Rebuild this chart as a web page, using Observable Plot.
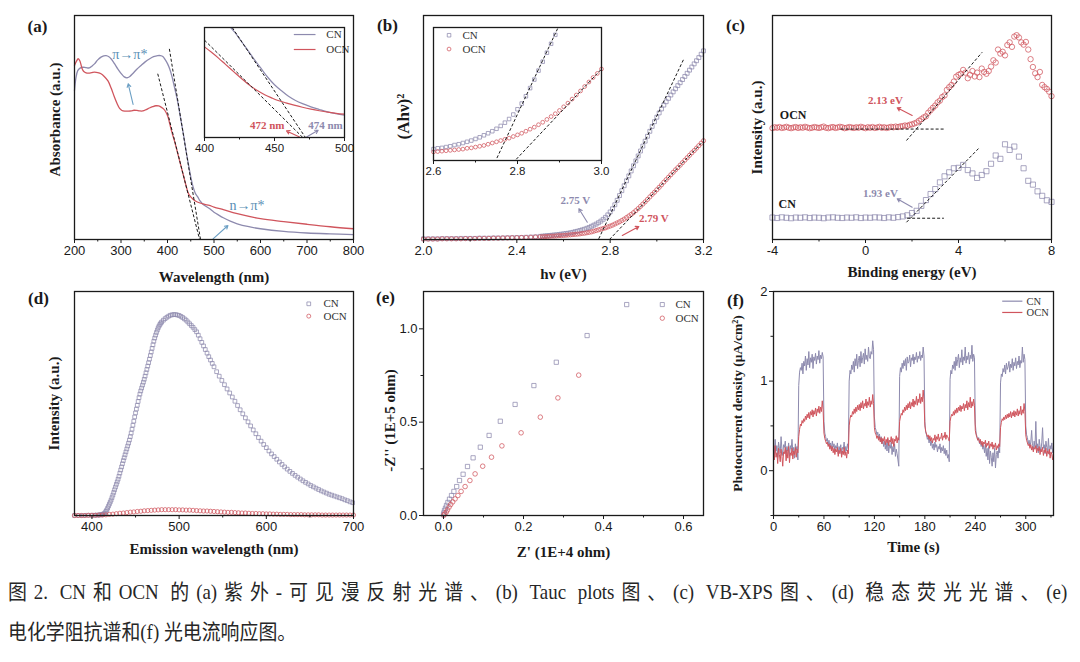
<!DOCTYPE html>
<html><head><meta charset="utf-8">
<script src="https://cdn.jsdelivr.net/npm/d3@7"></script>
<script src="https://cdn.jsdelivr.net/npm/@observablehq/plot@0.6"></script>
<style>
body{margin:0;background:#fff;}
#root{position:relative;width:1080px;height:662px;overflow:hidden;background:#fff;}
#root svg{position:absolute;}
.cap{position:absolute;left:8px;font-family:"Liberation Serif","Noto Sans CJK SC",serif;font-size:21px;line-height:40px;color:#262626;transform:scaleX(0.9);transform-origin:0 50%;white-space:nowrap;}
</style></head><body><div id="root">
<div class="cap" style="top:572px;width:1177px;white-space:normal;text-align:justify;text-align-last:justify">图2. CN和OCN 的(a)紫外-可见漫反射光谱、(b) Tauc plots图、(c) VB-XPS图、(d) 稳态荧光光谱、(e)</div>
<div class="cap" style="top:612px">电化学阻抗谱和(f) 光电流响应图。</div>
</div>
<script>
// ---------------- DATA ----------------
// (a) UV-vis absorbance (relative units)
const aWlCN = [200,203,207,212,218,225,232,238,243,250,257,263,268,274,279,286,293,300,307,313,319,325,334,343,352,361,370,379,385,390,395,400,405,410,415,420,425,430,435,440,445,450,455,460,465,470,475,480,485,490,500,510,520,535,550,575,600,650,700,750,800];
const aAbsCN = [0.665,0.72,0.754,0.765,0.769,0.767,0.766,0.775,0.784,0.802,0.814,0.82,0.821,0.816,0.806,0.785,0.762,0.742,0.726,0.722,0.728,0.74,0.76,0.777,0.793,0.806,0.816,0.821,0.821,0.817,0.803,0.785,0.76,0.725,0.68,0.635,0.58,0.52,0.46,0.395,0.335,0.28,0.235,0.205,0.19,0.172,0.16,0.152,0.145,0.138,0.122,0.109,0.097,0.082,0.07,0.057,0.048,0.036,0.029,0.025,0.022];
const aWlOCN = [200,204,208,212,216,220,225,230,237,243,250,257,264,272,279,286,292,297,302,308,315,322,328,334,340,347,354,361,368,375,381,387,392,397,401,405,410,415,420,425,430,435,440,445,450,455,460,470,480,490,500,520,550,600,650,700,750,800];
const aAbsOCN = [0.777,0.795,0.807,0.795,0.765,0.75,0.744,0.743,0.745,0.747,0.745,0.74,0.728,0.708,0.675,0.635,0.605,0.585,0.576,0.573,0.573,0.574,0.577,0.576,0.574,0.574,0.58,0.587,0.593,0.597,0.596,0.59,0.582,0.567,0.548,0.515,0.475,0.44,0.40,0.36,0.32,0.28,0.24,0.205,0.19,0.18,0.172,0.163,0.157,0.152,0.145,0.133,0.115,0.093,0.08,0.068,0.057,0.048];
const aTangents = [{x1:404,y1:0.851,x2:471,y2:0},{x1:379,y1:0.74,x2:469,y2:0}];
const aNotes = [{x:319,y:0.826,text:"π→π*"},{x:571,y:0.152,text:"n→π*"}];
const aArrows = [{x1:326,y1:0.603,x2:315.5,y2:0.695},{x1:498,y1:0.003,x2:530,y2:0.0625}];
// (a) inset
const aiWlCN = [419,422,426,430,435,440,445,450,455,460,465,470,476,482,488,494,500];
const aiAbsCN = [0.995,0.95,0.88,0.81,0.72,0.635,0.55,0.48,0.425,0.375,0.337,0.308,0.279,0.255,0.233,0.217,0.203];
const aiWlOCN = [400,405,410,415,421,427,433,438,443,448,452,458,464,470,476,482,488,494,500];
const aiAbsOCN = [0.824,0.775,0.722,0.665,0.597,0.53,0.467,0.425,0.389,0.36,0.339,0.315,0.294,0.275,0.258,0.243,0.23,0.22,0.212];
const aiTangents = [{x1:419.8,y1:1.0,x2:472.1,y2:0},{x1:400,y1:0.885,x2:470.2,y2:0}];
const aiNotes = [{s:"OCN",x:444.8,y:0.112,text:"472 nm"},{s:"CN",x:486.4,y:0.112,text:"474 nm"}];
const aiArrows = [{s:"OCN",x1:467.9,y1:0.005,x2:458.6,y2:0.06},{s:"CN",x1:472.9,y1:0.005,x2:481.2,y2:0.066}];
const aiLegend = [{s:"CN",x1:463.8,x2:479.3,y:0.936,tx:487},{s:"OCN",x1:463.8,x2:479.3,y:0.80,tx:487}];

// (b) Tauc plot
const bE = [2.00,2.02,2.04,2.06,2.08,2.10,2.12,2.14,2.16,2.18,2.20,2.22,2.24,2.26,2.28,2.30,2.32,2.34,2.36,2.38,2.40,2.42,2.44,2.46,2.48,2.50,
2.51,2.52,2.53,2.54,2.55,2.56,2.57,2.58,2.59,2.60,2.61,2.62,2.63,2.64,2.65,2.66,2.67,2.68,2.69,2.70,
2.71,2.72,2.73,2.74,2.75,2.76,2.77,2.78,2.79,2.80,2.81,2.82,2.83,2.84,2.85,2.86,2.87,2.88,2.89,2.90,
2.91,2.92,2.93,2.94,2.95,2.96,2.97,2.98,2.99,3.00,3.01,3.02,3.03,3.04,3.05,3.06,3.07,3.08,3.09,3.10,
3.11,3.12,3.13,3.14,3.15,3.16,3.17,3.18,3.19,3.20];
const bCN = [.003,.003,.003,.003,.004,.004,.004,.004,.005,.005,.005,.005,.006,.006,.006,.007,.007,.007,.008,.008,.009,.009,.010,.011,.012,.014,
.015,.016,.017,.018,.019,.020,.021,.022,.024,.025,.027,.028,.030,.032,.035,.037,.040,.043,.046,.050,
.054,.059,.064,.069,.075,.082,.090,.099,.110,.123,.137,.155,.175,.196,.218,.240,.262,.284,.306,.329,
.351,.373,.395,.417,.439,.461,.483,.505,.526,.546,.565,.583,.600,.615,.630,.645,.659,.673,.687,.700,
.714,.728,.742,.756,.770,.784,.798,.812,.827,.842];
const bOCN = [.002,.002,.002,.002,.003,.003,.003,.003,.003,.004,.004,.004,.005,.005,.005,.006,.006,.007,.007,.008,.008,.009,.009,.010,.011,.012,
.012,.013,.013,.014,.015,.015,.016,.017,.017,.018,.019,.020,.021,.022,.023,.024,.025,.027,.028,.030,
.032,.034,.037,.040,.043,.046,.049,.052,.056,.060,.064,.069,.074,.079,.085,.091,.098,.105,.112,.120,
.129,.138,.148,.158,.168,.179,.190,.201,.211,.222,.233,.244,.256,.267,.278,.289,.300,.311,.321,.332,
.343,.354,.365,.376,.387,.397,.408,.419,.430,.441];
const bTangents = [{x1:2.751,y1:0.003,x2:3.116,y2:0.807},{x1:2.797,y1:0,x2:3.194,y2:0.434}];
const bNotes = [{s:"CN",x:2.651,y:0.174,text:"2.75 V"},{s:"OCN",x:2.987,y:0.092,text:"2.79 V"}];
const bArrows = [{s:"CN",x1:2.702,y1:0.077,x2:2.666,y2:0.137},{s:"OCN",x1:2.852,y1:0.018,x2:2.923,y2:0.058}];
const biLegend = [{s:"CN",x:2.637,y:0.305,tx:2.669},{s:"OCN",x:2.637,y:0.271,tx:2.669}];

// (c) VB-XPS, sampled every 0.1 eV (OCN) and 0.2 eV (CN) from -4 eV
const cStart = -4, cStepOCN = 0.1, cStepCN = 0.2;
const cOCN = [.497,.501,.499,.502,.498,.500,.503,.499,.497,.500,
.502,.498,.501,.499,.503,.500,.497,.499,.502,.500,
.498,.501,.504,.499,.497,.500,.502,.498,.500,.503,
.501,.497,.499,.502,.500,.498,.501,.499,.503,.500,
.497,.501,.499,.502,.498,.500,.503,.499,.501,.498,
.500,.503,.501,.504,.502,.505,
.506,.509,.507,.512,.514,.518,.522,.530,.537,.545,
.550,.566,.577,.588,.598,.612,.620,.636,.643,.668,
.680,.690,.705,.727,.735,.740,.757,.745,.720,.735,
.752,.728,.745,.725,.763,.748,.740,.752,.772,.800,
.790,.848,.830,.838,.822,.868,.880,.860,.906,.912,
.902,.880,.870,.882,.848,.805,.770,.742,.725,.748,
.690,.680,.672,.660,.640];
const cCN = [.098,.096,.099,.097,.095,.098,.097,.099,.096,.098,
.097,.095,.098,.099,.097,.096,.098,.097,.099,.096,
.098,.097,.099,.098,.096,.099,.097,.100,
.103,.108,.118,.128,.150,.176,.203,.225,.255,.282,
.300,.318,.320,.333,.310,.295,.275,.288,.305,.338,
.375,.360,.425,.400,.415,.370,.318,.262,.245,.215,
.195,.175,.168];
const cTangents = [{x1:-1.07,y1:0.493,x2:3.38,y2:0.493},{x1:1.763,y1:0.442,x2:5.019,y2:0.836},{x1:1.79,y1:0.095,x2:3.37,y2:0.095},{x1:1.763,y1:0.077,x2:4.917,y2:0.412}];
const cLabels = [{x:-3.11,y:0.554,text:"OCN"},{x:-3.37,y:0.159,text:"CN"}];
const cNotes = [{s:"OCN",x:0.86,y:0.621,text:"2.13 eV"},{s:"CN",x:0.645,y:0.207,text:"1.93 eV"}];
const cArrows = [{s:"OCN",x1:2.008,y1:0.554,x2:1.363,y2:0.588},{s:"CN",x1:2.008,y1:0.144,x2:1.363,y2:0.182}];

// (d) steady-state PL
const dWlCN = [380,385,390,395,400,403,406,408,
410,411,412,413,414,415,416,417,418,419,420,421,422,423,424,425,426,427,428,429,
430,431,432,433,434,435,436,437,438,439,440,441,442,443,444,445,446,447,448,449,
450,451,452,453,454,455,456,457,458,459,460,461,462,463,464,465,466,467,468,469,
470,471,472,473,474,475,476,477,478,479,480,
482,484,486,488,490,492,494,496,498,500,502,504,506,508,510,512,514,516,518,520,
522,524,526,528,530,532,534,536,538,540,
543,546,549,552,555,558,561,564,567,570,573,576,579,582,585,588,591,594,597,600,
603,606,609,612,615,618,621,624,627,630,633,636,639,642,645,648,651,654,657,660,
663,666,669,672,675,678,681,684,687,690,693,696,699];
const dCN = [0,0,0,0.001,0.001,0.001,0.002,0.002,
.003,.004,.005,.006,.008,.012,.018,.025,.033,.042,.051,.060,.069,.080,.091,.103,.115,.127,.139,.150,
.162,.175,.189,.203,.217,.231,.245,.258,.271,.284,.297,.310,.323,.337,.352,.368,.385,.403,.421,.440,
.458,.475,.492,.509,.526,.542,.556,.569,.582,.595,.608,.622,.637,.652,.667,.682,.698,.714,.730,.746,
.762,.778,.792,.805,.817,.828,.838,.846,.853,.859,.864,
.872,.879,.885,.890,.894,.896,.897,.897,.895,.893,.889,.884,.878,.872,.864,.856,.848,.840,.830,.820,
.805,.789,.773,.757,.741,.725,.709,.694,.679,.664,
.642,.622,.603,.584,.565,.547,.529,.510,.491,.472,.454,.436,.418,.400,.382,.365,.348,.332,.317,.303,
.288,.275,.263,.251,.239,.228,.217,.207,.197,.188,.179,.171,.163,.155,.148,.141,.134,.128,.122,.116,
.110,.105,.100,.095,.091,.087,.083,.079,.075,.070,.066,.061,.057];
const dStartOCN = 380, dStepOCN = 4;
const dOCN = [.000,.000,.000,.000,.001,.001,.001,.002,.002,.003,
.005,.006,.008,.010,.011,.013,.015,.016,.018,.019,
.021,.022,.023,.024,.025,.026,.026,.026,.026,.026,
.025,.025,.024,.024,.023,.022,.021,.020,.020,.019,
.018,.017,.016,.015,.014,.014,.013,.012,.011,.011,
.010,.009,.009,.008,.008,.007,.007,.006,.006,.005,
.005,.005,.004,.004,.004,.004,.003,.003,.003,.003,
.003,.002,.002,.002,.002,.002,.002,.002,.002,.002,.002];
const dLegend = [{s:"CN",x:648.7,y:0.945,tx:665.6},{s:"OCN",x:648.7,y:0.89,tx:665.6}];

// (e) Nyquist plot
const eCNx = [0.000,0.001,0.0025,0.005,0.0075,0.011,0.015,0.020,0.026,0.033,0.040,0.049,0.060,0.074,0.092,0.114,0.142,0.179,0.226,0.282,0.359,0.458];
const eCNy = [0.004,0.014,0.027,0.039,0.054,0.070,0.0875,0.107,0.129,0.155,0.1875,0.221,0.2625,0.309,0.366,0.429,0.505,0.595,0.696,0.821,0.964,1.13];
const eOCNx = [0.001,0.003,0.007,0.010,0.014,0.018,0.023,0.029,0.036,0.044,0.054,0.066,0.079,0.098,0.120,0.146,0.194,0.242,0.286,0.338];
const eOCNy = [0.002,0.009,0.018,0.030,0.045,0.059,0.073,0.089,0.107,0.129,0.155,0.1875,0.223,0.264,0.3125,0.373,0.443,0.527,0.630,0.752];
const eLegend = [{s:"CN",x:0.547,y:1.13,tx:0.58},{s:"OCN",x:0.547,y:1.057,tx:0.58}];

// (f) transient photocurrent, 1 s sampling, light on 30-60, 90-120, ... s
const fStep = 1;
const fCN = [
0.30,0.18,0.35,0.22,0.28,0.15,0.32,0.25,0.20,0.38,0.24,0.17,0.29,0.26,0.33,0.19,0.27,0.22,0.31,0.16,0.28,0.24,0.35,0.21,0.26,0.14,0.30,0.23,0.27,0.12,
0.95,1.10,1.15,1.12,1.20,1.08,1.22,1.17,1.28,1.12,1.25,1.18,1.33,1.15,1.26,1.21,1.30,1.14,1.27,1.23,1.31,1.19,1.28,1.24,1.34,1.20,1.29,1.25,1.32,1.27,
0.55,0.42,0.38,0.33,0.36,0.29,0.34,0.27,0.31,0.24,0.33,0.26,0.30,0.22,0.28,0.25,0.31,0.19,0.27,0.23,0.29,0.18,0.26,0.24,0.32,0.20,0.27,0.22,0.30,0.25,
1.00,1.12,1.08,1.18,1.13,1.22,1.10,1.25,1.17,1.30,1.14,1.23,1.28,1.16,1.33,1.20,1.26,1.31,1.19,1.36,1.24,1.29,1.22,1.38,1.27,1.25,1.33,1.30,1.45,1.35,
0.60,0.48,0.45,0.40,0.43,0.36,0.41,0.33,0.38,0.30,0.35,0.27,0.33,0.24,0.31,0.22,0.35,0.20,0.29,0.25,0.32,0.18,0.27,0.21,0.30,0.16,0.24,0.19,0.12,0.05,
1.05,1.15,1.10,1.20,1.14,1.23,1.17,1.25,1.12,1.27,1.20,1.22,1.29,1.16,1.26,1.23,1.30,1.19,1.27,1.24,1.32,1.21,1.28,1.25,1.33,1.23,1.29,1.26,1.38,1.28,
0.55,0.43,0.40,0.35,0.38,0.31,0.36,0.28,0.33,0.25,0.30,0.23,0.32,0.26,0.29,0.21,0.27,0.24,0.30,0.20,0.26,0.22,0.28,0.19,0.25,0.17,0.23,0.14,0.18,0.10,
1.02,1.12,1.08,1.18,1.14,1.22,1.12,1.27,1.17,1.24,1.30,1.15,1.26,1.21,1.35,1.18,1.27,1.23,1.38,1.20,1.28,1.24,1.32,1.19,1.29,1.25,1.40,1.22,1.30,1.26,
0.52,0.42,0.38,0.34,0.37,0.30,0.34,0.27,0.31,0.24,0.28,0.20,0.30,0.16,0.25,0.12,0.27,0.08,0.22,0.15,0.05,0.20,0.10,0.25,0.03,0.18,0.22,0.14,0.26,0.20,
0.98,1.08,1.05,1.14,1.10,1.18,1.08,1.20,1.13,1.16,1.22,1.10,1.19,1.15,1.25,1.12,1.21,1.17,1.26,1.14,1.22,1.18,1.28,1.15,1.23,1.20,1.38,1.21,1.30,1.24,
0.50,0.40,0.37,0.30,0.34,0.27,0.32,0.45,0.28,0.23,0.33,0.26,0.55,0.24,0.30,0.20,0.35,0.27,0.22,0.31,0.48,0.25,0.29,0.19,0.33,0.26,0.22,0.36,0.18,0.28,0.24,0.31,0.20,0.26];
const fOCN = [
0.22,0.12,0.28,0.15,0.20,0.08,0.25,0.18,0.10,0.24,0.16,0.05,0.21,0.19,0.26,0.11,0.23,0.14,0.27,0.09,0.20,0.17,0.25,0.13,0.22,0.18,0.26,0.15,0.24,0.20,
0.38,0.46,0.52,0.50,0.56,0.53,0.58,0.55,0.61,0.57,0.63,0.59,0.65,0.58,0.66,0.62,0.68,0.60,0.67,0.63,0.70,0.61,0.69,0.65,0.72,0.64,0.71,0.66,0.78,0.68,
0.42,0.36,0.33,0.30,0.32,0.27,0.30,0.24,0.28,0.22,0.27,0.20,0.25,0.18,0.24,0.21,0.26,0.16,0.23,0.19,0.25,0.15,0.22,0.18,0.26,0.17,0.21,0.14,0.23,0.19,
0.50,0.58,0.62,0.60,0.66,0.63,0.69,0.64,0.71,0.66,0.73,0.68,0.74,0.67,0.76,0.70,0.78,0.69,0.75,0.72,0.80,0.70,0.77,0.73,0.82,0.71,0.78,0.74,0.85,0.75,
0.48,0.42,0.40,0.36,0.39,0.34,0.38,0.32,0.37,0.30,0.36,0.33,0.38,0.29,0.35,0.31,0.37,0.28,0.34,0.32,0.38,0.30,0.36,0.27,0.35,0.33,0.39,0.31,0.37,0.34,
0.55,0.60,0.64,0.62,0.68,0.65,0.71,0.67,0.73,0.68,0.75,0.70,0.77,0.69,0.76,0.72,0.80,0.71,0.78,0.74,0.83,0.73,0.80,0.76,0.86,0.75,0.82,0.77,0.90,0.79,
0.50,0.44,0.41,0.38,0.40,0.35,0.39,0.33,0.37,0.31,0.36,0.34,0.40,0.32,0.38,0.35,0.41,0.33,0.37,0.36,0.42,0.34,0.39,0.37,0.43,0.35,0.40,0.38,0.36,0.33,
0.55,0.60,0.63,0.61,0.66,0.62,0.68,0.64,0.70,0.65,0.71,0.67,0.73,0.66,0.72,0.69,0.75,0.67,0.74,0.70,0.78,0.68,0.76,0.71,0.82,0.70,0.77,0.72,0.80,0.73,
0.45,0.40,0.37,0.34,0.36,0.31,0.35,0.29,0.33,0.27,0.32,0.30,0.34,0.26,0.31,0.28,0.33,0.25,0.30,0.27,0.32,0.24,0.29,0.26,0.31,0.23,0.28,0.25,0.30,0.27,
0.48,0.54,0.58,0.56,0.60,0.57,0.62,0.58,0.63,0.59,0.64,0.60,0.66,0.59,0.65,0.61,0.67,0.60,0.66,0.62,0.69,0.61,0.67,0.63,0.72,0.62,0.68,0.64,0.75,0.66,
0.40,0.34,0.31,0.28,0.30,0.25,0.29,0.23,0.27,0.21,0.26,0.24,0.28,0.20,0.25,0.22,0.27,0.18,0.24,0.21,0.26,0.17,0.23,0.20,0.25,0.16,0.22,0.19,0.24,0.14,0.21,0.18,0.12,0.20];
const fLegend = [{s:"CN",x1:272,x2:296,y:1.892,tx:301},{s:"OCN",x1:272,x2:296,y:1.766,tx:301}];

// ---------------- STYLE / HELPERS ----------------
const CN_COL = "#8d8aae", OCN_COL = "#d0555d", ANN_COL = "#5a8fb5", INK = "#1a1a1a";
const SANS = "'Liberation Sans', Arial, sans-serif";
const SERIF = "'Liberation Serif', 'Times New Roman', serif";
const STYLE = {background: "transparent", overflow: "visible", fontFamily: SANS, fontSize: "13px", color: INK};
const col = s => s === "CN" ? CN_COL : OCN_COL;
const zip = (xs, ys) => xs.map((x, i) => ({x, y: ys[i]}));
const sampled = (start, step, ys) => ys.map((y, i) => ({x: +(start + i * step).toFixed(4), y}));
const root = document.getElementById("root");
function place(svg, left, top) { svg.style.left = left + "px"; svg.style.top = top + "px"; root.appendChild(svg); }

function xAxis(major, minor, fmt, fs = 13) {
  return [
    Plot.axisX(minor, {tickSize: 2.5, tickFormat: () => "", label: null, strokeWidth: 1}),
    Plot.axisX(major, {tickSize: 4, tickPadding: 2, tickFormat: fmt, label: null, fontSize: fs, strokeWidth: 1})
  ];
}
function yAxis(major, minor, fmt) {
  return [
    Plot.axisY(minor, {tickSize: 2.5, tickFormat: () => "", label: null, strokeWidth: 1}),
    Plot.axisY(major, {tickSize: 4, tickPadding: 2, tickFormat: fmt, label: null, fontSize: 13, strokeWidth: 1})
  ];
}
const frame = () => Plot.frame({stroke: INK, strokeWidth: 1.3});
const xTitle = (t, dy) => Plot.text([t], {text: d => d, frameAnchor: "bottom", dy, lineAnchor: "middle", fontFamily: SERIF, fontWeight: "bold", fontSize: 15, fill: INK});
const yTitle = (t, dx, dy = 0, fs = 15) => Plot.text([t], {text: d => d, frameAnchor: "left", dx, dy, rotate: -90, textAnchor: "middle", lineAnchor: "middle", fontFamily: SERIF, fontWeight: "bold", fontSize: fs, fill: INK});
const tag = (t, dx, dy) => Plot.text([t], {text: d => d, frameAnchor: "top-left", dx, dy, textAnchor: "middle", lineAnchor: "middle", fontFamily: SERIF, fontWeight: "bold", fontSize: 17, fill: INK});
const dashed = (data, extra = {}) => Plot.link(data, {x1: "x1", y1: "y1", x2: "x2", y2: "y2", stroke: INK, strokeWidth: 1, strokeDasharray: "3,2", ...extra});
const arrows = (data, stroke) => Plot.arrow(data, {x1: "x1", y1: "y1", x2: "x2", y2: "y2", stroke, strokeWidth: 1.1, headLength: 5});
const legendText = (data, fs = 11) => Plot.text(data, {x: "tx", y: "y", text: "s", textAnchor: "start", fontFamily: SERIF, fontSize: fs, fill: "#333"});
const squares = (data, r, extra = {}) => Plot.dot(data, {x: "x", y: "y", symbol: "square", r, fill: "none", stroke: CN_COL, strokeWidth: 0.75, ...extra});
const circles = (data, r, extra = {}) => Plot.dot(data, {x: "x", y: "y", symbol: "circle", r, fill: "none", stroke: OCN_COL, strokeWidth: 0.75, ...extra});
const byS = (arr, s) => arr.filter(d => d.s === s);

// ---------------- (a) ----------------
place(Plot.plot({
  width: 370, height: 285, marginLeft: 74, marginRight: 17, marginTop: 15, marginBottom: 46,
  style: STYLE, x: {domain: [200, 800], label: null}, y: {domain: [0, 1], axis: null},
  marks: [
    Plot.line(zip(aWlCN, aAbsCN), {x: "x", y: "y", stroke: CN_COL, strokeWidth: 1.3, curve: "catmull-rom"}),
    Plot.line(zip(aWlOCN, aAbsOCN), {x: "x", y: "y", stroke: OCN_COL, strokeWidth: 1.3, curve: "catmull-rom"}),
    dashed(aTangents),
    arrows(aArrows, "#6b9fc4"),
    Plot.text(aNotes, {x: "x", y: "y", text: "text", fill: ANN_COL, fontFamily: SERIF, fontSize: 14}),
    ...xAxis([200,300,400,500,600,700,800], [250,350,450,550,650,750], d => String(d)),
    frame(),
    xTitle("Wavelength (nm)", 38), yTitle("Absorbance (a.u.)", -19, -8), tag("(a)", -37, 11)
  ]
}), 0, 0);

// (a) inset
place(Plot.plot({
  width: 165, height: 140, marginLeft: 14, marginRight: 11, marginTop: 7, marginBottom: 23,
  style: {...STYLE, fontSize: "11px"}, x: {domain: [400, 500], label: null}, y: {domain: [0, 1], axis: null},
  marks: [
    Plot.line(zip(aiWlCN, aiAbsCN), {x: "x", y: "y", stroke: CN_COL, strokeWidth: 1.2, curve: "catmull-rom"}),
    Plot.line(zip(aiWlOCN, aiAbsOCN), {x: "x", y: "y", stroke: OCN_COL, strokeWidth: 1.2, curve: "catmull-rom"}),
    dashed(aiTangents, {clip: true}),
    arrows(byS(aiArrows, "OCN"), OCN_COL), arrows(byS(aiArrows, "CN"), CN_COL),
    Plot.text(byS(aiNotes, "OCN"), {x: "x", y: "y", text: "text", fill: OCN_COL, fontFamily: SERIF, fontWeight: "bold", fontSize: 11}),
    Plot.text(byS(aiNotes, "CN"), {x: "x", y: "y", text: "text", fill: CN_COL, fontFamily: SERIF, fontWeight: "bold", fontSize: 11}),
    Plot.link(aiLegend, {x1: "x1", x2: "x2", y1: "y", y2: "y", stroke: d => col(d.s), strokeWidth: 1.2}),
    legendText(aiLegend),
    ...xAxis([400,450,500], [425,475], d => String(d), 11.5),
    frame()
  ]
}), 190, 20);

// ---------------- (b) ----------------
const bCNd = zip(bE, bCN), bOCNd = zip(bE, bOCN);
place(Plot.plot({
  width: 360, height: 285, marginLeft: 63, marginRight: 17, marginTop: 15, marginBottom: 46,
  style: STYLE, x: {domain: [2.0, 3.2], label: null}, y: {domain: [0, 1], axis: null},
  marks: [
    squares(bCNd, 2.2),
    circles(bOCNd, 2.1),
    dashed(bTangents),
    arrows(byS(bArrows, "CN"), CN_COL), arrows(byS(bArrows, "OCN"), OCN_COL),
    Plot.text(byS(bNotes, "CN"), {x: "x", y: "y", text: "text", fill: CN_COL, fontFamily: SERIF, fontWeight: "bold", fontSize: 11}),
    Plot.text(byS(bNotes, "OCN"), {x: "x", y: "y", text: "text", fill: OCN_COL, fontFamily: SERIF, fontWeight: "bold", fontSize: 11}),
    ...xAxis([2.0,2.4,2.8,3.2], [2.2,2.6,3.0], d3.format(".1f")),
    frame(),
    xTitle("hν (eV)", 35), yTitle("(Ahν)²", -20, -11, 17), tag("(b)", -36, 10)
  ]
}), 360, 0);

// (b) inset
const biDom = [-0.003, 0.324];
const inB = d => d.x >= 2.6 && d.x <= 3.0 && d.y <= biDom[1];
place(Plot.plot({
  width: 190, height: 165, marginLeft: 13, marginRight: 9, marginTop: 7, marginBottom: 25,
  style: {...STYLE, fontSize: "11px"}, x: {domain: [2.6, 3.0], label: null}, y: {domain: biDom, axis: null},
  marks: [
    squares(bCNd.filter(inB), 2.0),
    circles(bOCNd.filter(inB), 1.9),
    dashed(bTangents, {clip: true}),
    squares(byS(biLegend, "CN"), 2.0),
    circles(byS(biLegend, "OCN"), 1.9),
    legendText(biLegend),
    ...xAxis([2.6,2.8,3.0], [2.7,2.9], d3.format(".1f"), 11.5),
    frame()
  ]
}), 420, 20);

// ---------------- (c) ----------------
place(Plot.plot({
  width: 365, height: 285, marginLeft: 57, marginRight: 29, marginTop: 15, marginBottom: 46,
  style: STYLE, x: {domain: [-4, 8], label: null}, y: {domain: [0, 1], axis: null},
  marks: [
    circles(sampled(cStart, cStepOCN, cOCN), 2.7),
    squares(sampled(cStart, cStepCN, cCN), 2.9),
    dashed(cTangents),
    arrows(byS(cArrows, "OCN"), OCN_COL), arrows(byS(cArrows, "CN"), CN_COL),
    Plot.text(cLabels, {x: "x", y: "y", text: "text", fill: INK, fontFamily: SERIF, fontWeight: "bold", fontSize: 12}),
    Plot.text(byS(cNotes, "OCN"), {x: "x", y: "y", text: "text", fill: OCN_COL, fontFamily: SERIF, fontWeight: "bold", fontSize: 11}),
    Plot.text(byS(cNotes, "CN"), {x: "x", y: "y", text: "text", fill: CN_COL, fontFamily: SERIF, fontWeight: "bold", fontSize: 11}),
    ...xAxis([-4,0,4,8], [-2,2,6], d => String(d)),
    frame(),
    xTitle("Binding energy (eV)", 33), yTitle("Intensity (a.u.)", -15), tag("(c)", -37, 10)
  ]
}), 715, 0);

// ---------------- (d) ----------------
place(Plot.plot({
  width: 370, height: 285, marginLeft: 74, marginRight: 17, marginTop: 6, marginBottom: 55,
  style: STYLE, x: {domain: [380, 700], label: null}, y: {domain: [0, 1], axis: null},
  marks: [
    squares(zip(dWlCN, dCN), 2.1),
    circles(sampled(dStartOCN, dStepOCN, dOCN), 2.1),
    squares(byS(dLegend, "CN"), 2.1),
    circles(byS(dLegend, "OCN"), 2.0),
    legendText(dLegend),
    ...xAxis([400,500,600,700], [450,550,650], d => String(d)),
    frame(),
    xTitle("Emission wavelength (nm)", 34), yTitle("Intensity (a.u.)", -20), tag("(d)", -36, 7)
  ]
}), 0, 285);

// ---------------- (e) ----------------
place(Plot.plot({
  width: 360, height: 285, marginLeft: 63, marginRight: 17, marginTop: 6, marginBottom: 55,
  style: STYLE, x: {domain: [-0.05, 0.65], label: null}, y: {domain: [0, 1.2], label: null},
  marks: [
    squares(zip(eCNx, eCNy), 2.4),
    circles(zip(eOCNx, eOCNy), 2.3),
    squares(byS(eLegend, "CN"), 2.3),
    circles(byS(eLegend, "OCN"), 2.2),
    legendText(eLegend),
    ...xAxis([0, 0.2, 0.4, 0.6], [0.1, 0.3, 0.5], d3.format(".1f")),
    ...yAxis([0, 0.5, 1.0], [0.25, 0.75], d3.format(".1f")),
    frame(),
    xTitle("Z' (1E+4 ohm)", 37), yTitle("-Z'' (1E+5 ohm)", -33, 17), tag("(e)", -38, 6)
  ]
}), 360, 285);

// ---------------- (f) ----------------
place(Plot.plot({
  width: 365, height: 285, marginLeft: 58, marginRight: 27, marginTop: 6, marginBottom: 55,
  style: STYLE, x: {domain: [0, 333], label: null}, y: {domain: [-0.5, 2], label: null},
  marks: [
    Plot.line(sampled(0, fStep, fCN), {x: "x", y: "y", stroke: CN_COL, strokeWidth: 1}),
    Plot.line(sampled(0, fStep, fOCN), {x: "x", y: "y", stroke: OCN_COL, strokeWidth: 1}),
    Plot.link(fLegend, {x1: "x1", x2: "x2", y1: "y", y2: "y", stroke: d => col(d.s), strokeWidth: 1.2}),
    legendText(fLegend, 10.5),
    ...xAxis([0,60,120,180,240,300], [30,90,150,210,270,330], d => String(d)),
    ...yAxis([0,1,2], [-0.5,0.5,1.5], d => String(d)),
    frame(),
    xTitle("Time (s)", 32), yTitle("Photocurrent density (μA/cm²)", -36, 0, 13.5), tag("(f)", -38, 9)
  ]
}), 715, 285);
</script></body></html>
